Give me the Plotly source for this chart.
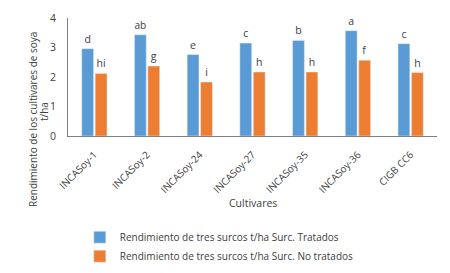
import plotly.graph_objects as go

cultivares = ["INCASoy-1", "INCASoy-2", "INCASoy-24", "INCASoy-27", "INCASoy-35", "INCASoy-36", "CIGB CC6"]
tratados = [2.96, 3.43, 2.76, 3.15, 3.24, 3.57, 3.13]
no_tratados = [2.12, 2.37, 1.83, 2.17, 2.17, 2.57, 2.15]
letras_tratados = ["d", "ab", "e", "c", "b", "a", "c"]
letras_no_tratados = ["hi", "g", "i", "h", "h", "f", "h"]

font = "Open Sans, DejaVu Sans, sans-serif"
txt = "#404040"

fig = go.Figure()
fig.add_trace(go.Bar(
    x=cultivares, y=tratados, name="Rendimiento de tres surcos t/ha Surc. Tratados",
    marker=dict(color="#5B9BD5"), text=letras_tratados, textposition="outside",
    textfont=dict(size=10.5, color=txt), cliponaxis=False,
))
fig.add_trace(go.Bar(
    x=cultivares, y=no_tratados, name="Rendimiento de tres surcos t/ha Surc. No tratados",
    marker=dict(color="#ED7D31"), text=letras_no_tratados, textposition="outside",
    textfont=dict(size=10.5, color=txt), cliponaxis=False,
))

fig.update_layout(
    width=450, height=273,
    margin=dict(l=68, r=13, t=18, b=137, autoexpand=False),
    paper_bgcolor="white", plot_bgcolor="white",
    font=dict(family=font, size=10.5, color=txt),
    barmode="group", bargap=0.49, bargroupgap=0.12,
    showlegend=True,
    legend=dict(orientation="v", x=0.032, y=-0.735, xanchor="left", yanchor="top",
                font=dict(size=10, color=txt), itemwidth=30, tracegroupgap=3,
                bgcolor="rgba(0,0,0,0)"),
    xaxis=dict(showline=True, linecolor="#808080", linewidth=1, tickangle=-45,
               ticks="", ticklabelstandoff=8, tickfont=dict(size=10, color=txt),
               showgrid=False, automargin=False),
    yaxis=dict(range=[0, 4], dtick=1, showline=True, linecolor="#808080", linewidth=1,
               ticks="", ticklabelstandoff=9, showgrid=False, zeroline=False,
               tickfont=dict(size=10.5, color=txt), automargin=False),
    annotations=[
        dict(text="Rendimiento de los cultivares de soya", textangle=-90,
             xref="paper", yref="paper", x=(33 - 68) / 369, y=(136 - 120) / 118,
             xanchor="center", yanchor="middle",
             showarrow=False, font=dict(size=10, color=txt)),
        dict(text="t/ha", textangle=-90,
             xref="paper", yref="paper", x=(44 - 68) / 369, y=(136 - 112) / 118,
             xanchor="center", yanchor="middle",
             showarrow=False, font=dict(size=10, color=txt)),
        dict(text="Cultivares", xref="paper", yref="paper", x=0.5, y=(136 - 203) / 118,
             xanchor="center", yanchor="middle", showarrow=False,
             font=dict(size=10.5, color=txt)),
    ],
)

fig.write_html("out.html", config={"displayModeBar": False},
               post_script="document.body.style.margin='0px';")
